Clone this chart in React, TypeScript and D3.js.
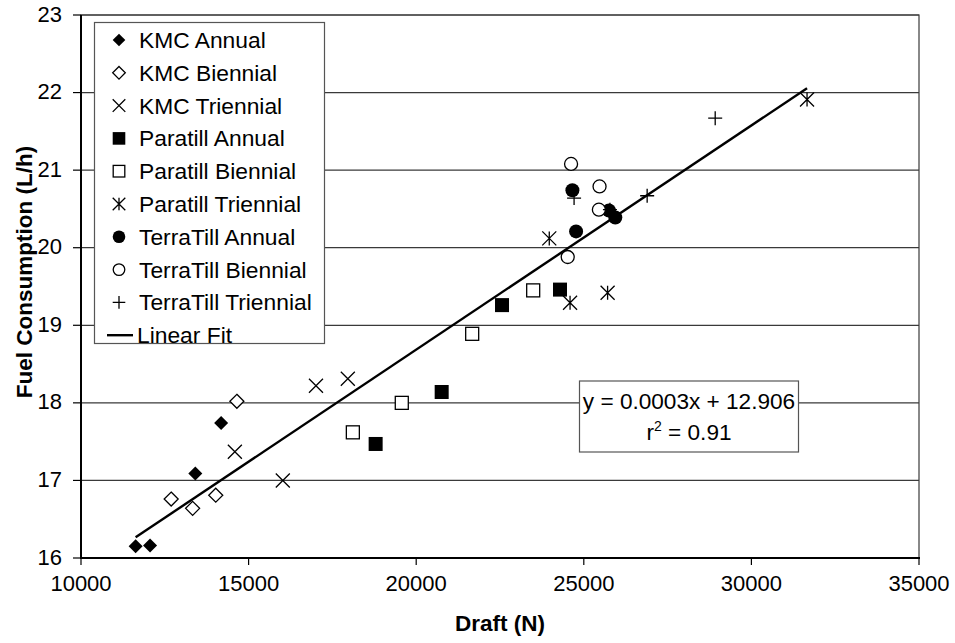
import React from "react";
import * as d3 from "d3";

const seriesNames = [
  "KMC Annual",
  "KMC Biennial",
  "KMC Triennial",
  "Paratill Annual",
  "Paratill Biennial",
  "Paratill Triennial",
  "TerraTill Annual",
  "TerraTill Biennial",
  "TerraTill Triennial",
];
const seriesMarkers = [
  "diamondFilled",
  "diamondOpen",
  "cross",
  "squareFilled",
  "squareOpen",
  "asterisk",
  "circleFilled",
  "circleOpen",
  "plus",
];
const kmcAnnualX = [11630, 12060, 13410, 14180];
const kmcAnnualY = [16.15, 16.16, 17.09, 17.74];
const kmcBiennialX = [12690, 13330, 14020, 14650];
const kmcBiennialY = [16.76, 16.64, 16.81, 18.02];
const kmcTriennialX = [14590, 16020, 17010, 17960];
const kmcTriennialY = [17.37, 17.0, 18.22, 18.31];
const paraAnnualX = [18790, 20760, 22560, 24290];
const paraAnnualY = [17.47, 18.14, 19.26, 19.46];
const paraBiennialX = [18110, 19570, 21670, 23490];
const paraBiennialY = [17.62, 18.0, 18.89, 19.45];
const paraTriennialX = [23970, 24590, 25710, 31660];
const paraTriennialY = [20.12, 19.29, 19.42, 21.91];
const terraAnnualX = [24660, 24770, 25750, 25940];
const terraAnnualY = [20.74, 20.21, 20.48, 20.39];
const terraBiennialX = [24620, 25470, 25450, 24520];
const terraBiennialY = [21.08, 20.79, 20.49, 19.88];
const terraTriennialX = [24710, 25780, 26890, 28920];
const terraTriennialY = [20.64, 20.49, 20.67, 21.67];

const seriesX = [kmcAnnualX, kmcBiennialX, kmcTriennialX, paraAnnualX, paraBiennialX, paraTriennialX, terraAnnualX, terraBiennialX, terraTriennialX];
const seriesY = [kmcAnnualY, kmcBiennialY, kmcTriennialY, paraAnnualY, paraBiennialY, paraTriennialY, terraAnnualY, terraBiennialY, terraTriennialY];

const fitSlope = 0.000289;
const fitIntercept = 12.906;
const fitRange = [11630, 31660];

const xTicks = [10000, 15000, 20000, 25000, 30000, 35000];
const yTicks = [16, 17, 18, 19, 20, 21, 22, 23];

const equationText = "y = 0.0003x + 12.906";
const r2Value = "0.91";

const FONT = "'Liberation Sans', Arial, Helvetica, sans-serif";

function Marker({ type, x, y, s }: { type: string; x: number; y: number; s: number }) {
  const sw = 1.3;
  switch (type) {
    case "diamondFilled":
      return <path d={`M${x},${y - s}L${x + s},${y}L${x},${y + s}L${x - s},${y}Z`} fill="#000" />;
    case "diamondOpen":
      return <path d={`M${x},${y - s}L${x + s},${y}L${x},${y + s}L${x - s},${y}Z`} fill="#fff" stroke="#000" strokeWidth={sw} />;
    case "cross":
      return <path d={`M${x - s},${y - s}L${x + s},${y + s}M${x - s},${y + s}L${x + s},${y - s}`} stroke="#000" strokeWidth={sw} fill="none" />;
    case "squareFilled":
      return <rect x={x - s} y={y - s} width={2 * s} height={2 * s} fill="#000" />;
    case "squareOpen":
      return <rect x={x - s + 0.5} y={y - s + 0.5} width={2 * s - 1} height={2 * s - 1} fill="#fff" stroke="#000" strokeWidth={sw} />;
    case "asterisk":
      return <path d={`M${x - s},${y - s}L${x + s},${y + s}M${x - s},${y + s}L${x + s},${y - s}M${x},${y - s}L${x},${y + s}`} stroke="#000" strokeWidth={sw} fill="none" />;
    case "circleFilled":
      return <circle cx={x} cy={y} r={s} fill="#000" />;
    case "circleOpen":
      return <circle cx={x} cy={y} r={s - 0.5} fill="#fff" stroke="#000" strokeWidth={sw} />;
    case "plus":
      return <path d={`M${x - s},${y}L${x + s},${y}M${x},${y - s}L${x},${y + s}`} stroke="#000" strokeWidth={sw} fill="none" />;
    default:
      return null;
  }
}

export default function App() {
  const W = 955;
  const H = 643;
  const x = d3.scaleLinear().domain([10000, 35000]).range([81, 919]);
  const y = d3.scaleLinear().domain([16, 23]).range([558, 15]);

  const fitLine = d3
    .line<number>()
    .x((d) => x(d))
    .y((d) => y(fitSlope * d + fitIntercept));

  const legendX = 94;
  const legendY = 22;
  const legendW = 230;
  const legendH = 321;
  const rowY0 = 40;
  const rowStep = 32.8;

  return (
    <svg width={W} height={H} style={{ position: "absolute", left: 0, top: 0, background: "#fff" }} fontFamily={FONT}>
      <rect x={0} y={0} width={W} height={H} fill="#fff" />
      {/* gridlines */}
      {yTicks.map((t) => (
        <line key={"g" + t} x1={x.range()[0]} x2={x.range()[1]} y1={y(t)} y2={y(t)} stroke="#3a3a3a" strokeWidth={1.2} />
      ))}
      {/* plot border */}
      <rect x={81} y={15} width={838} height={543} fill="none" stroke="#3a3a3a" strokeWidth={1.2} />
      {/* axes */}
      <line x1={81} x2={81} y1={15} y2={558} stroke="#000" strokeWidth={2} />
      <line x1={80} x2={920} y1={558} y2={558} stroke="#000" strokeWidth={2} />
      {yTicks.map((t) => (
        <g key={"yt" + t}>
          <line x1={73} x2={81} y1={y(t)} y2={y(t)} stroke="#000" strokeWidth={1.2} />
          <text x={62} y={y(t) + 6.5} textAnchor="end" fontSize={22} fill="#000">
            {t}
          </text>
        </g>
      ))}
      {xTicks.map((t) => (
        <g key={"xt" + t}>
          <line x1={x(t)} x2={x(t)} y1={558} y2={565} stroke="#000" strokeWidth={1.2} />
          <text x={x(t)} y={590.5} textAnchor="middle" fontSize={22} fill="#000">
            {t}
          </text>
        </g>
      ))}
      {/* axis titles */}
      <text x={500} y={631} textAnchor="middle" fontSize={22.5} fontWeight="bold" fill="#000">
        Draft (N)
      </text>
      <text transform={`translate(32,272) rotate(-90)`} textAnchor="middle" fontSize={22.5} fontWeight="bold" fill="#000">
        Fuel Consumption (L/h)
      </text>
      {/* equation box */}
      <rect x={579.5} y={381} width={219} height={71} fill="#fff" stroke="#555" strokeWidth={1.2} />
      <text x={689} y={408.5} textAnchor="middle" fontSize={22.6} fill="#000">
        {equationText}
      </text>
      <text x={689} y={440} textAnchor="middle" fontSize={22.6} fill="#000">
        r<tspan dy={-9} fontSize={14}>2</tspan>
        <tspan dy={9}>{" = " + r2Value}</tspan>
      </text>
      {/* fit line */}
      <path d={fitLine(fitRange) || ""} stroke="#000" strokeWidth={2.4} fill="none" />
      {/* points */}
      {seriesNames.map((name, si) =>
        seriesX[si].map((vx, i) => (
          <Marker key={name + i} type={seriesMarkers[si]} x={x(vx)} y={y(seriesY[si][i])} s={7} />
        ))
      )}
      {/* legend */}
      <rect x={legendX + 0.5} y={legendY + 0.5} width={legendW} height={legendH} fill="#fff" stroke="#555" strokeWidth={1.2} />
      {seriesNames.map((name, si) => (
        <g key={"lg" + name}>
          <Marker type={seriesMarkers[si]} x={119} y={rowY0 + si * rowStep} s={6.3} />
          <text x={139} y={rowY0 + si * rowStep + 8} fontSize={22.8} fill="#000">
            {name}
          </text>
        </g>
      ))}
      <line x1={107} x2={133} y1={rowY0 + 9 * rowStep} y2={rowY0 + 9 * rowStep} stroke="#000" strokeWidth={2.4} />
      <text x={137} y={rowY0 + 9 * rowStep + 8} fontSize={22.8} fill="#000">
        Linear Fit
      </text>
    </svg>
  );
}
